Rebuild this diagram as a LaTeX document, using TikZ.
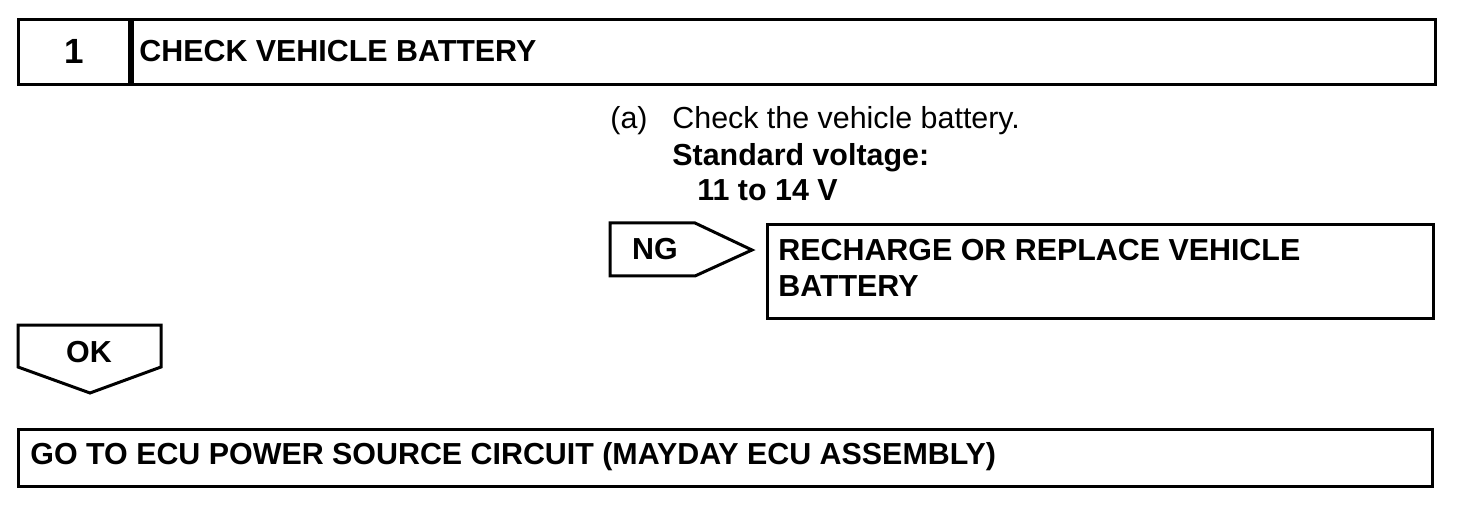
\documentclass[tikz,border=0pt]{standalone}
\usepackage{fontspec}
\setmainfont{Liberation Sans}
\usepackage{tikz}
\usetikzlibrary{positioning, calc}
\tikzstyle{cellbox} = [rectangle, draw=black, line width=1.5pt, inner sep=0pt, anchor=north west]
\tikzstyle{headtext} = [font=\fontsize{15.2}{18}\selectfont\bfseries, inner sep=0pt]
\tikzstyle{bodytext} = [font=\fontsize{15.2}{17.5}\selectfont, inner sep=0pt, anchor=base west]
\tikzstyle{outline} = [draw=black, line width=1.5pt, line join=miter]

\begin{document}
\begin{tikzpicture}[x=0.5pt, y=-0.5pt]
  \useasboundingbox (0,0) rectangle (1472,518);
  % step header
  \node (num) [cellbox, minimum width=55.5pt, minimum height=32.5pt] at (17,18) {};
  \node (title) [cellbox, minimum width=651.5pt, minimum height=32.5pt] at (num.north east) {};
  \node [headtext, font=\fontsize{17.5}{20}\selectfont\bfseries] at ($(num.center)+(0,-1)$) {1};
  \node (titletext) [headtext, anchor=west] at ($(title.west)+(8,-1)$) {CHECK VEHICLE BATTERY};

  % instructions
  \node (item) [bodytext] at (610,129) {(a)};
  \node (check) [bodytext] at (672,129) {Check the vehicle battery.};
  \node (stdv) [bodytext, font=\fontsize{15.2}{17.5}\selectfont\bfseries] at (672,166) {Standard voltage:};
  \node (volts) [bodytext, font=\fontsize{15.2}{17.5}\selectfont\bfseries] at (697,201) {11 to 14 V};

  % NG branch
  \draw[outline] (610,223) -- (695,223) -- (752,250) -- (695,276) -- (610,276) -- cycle;
  \node (ng) [headtext] at (655,249) {NG};
  \node (repl) [cellbox, minimum width=333pt, minimum height=47pt] at (766,223) {};
  \node (repltext) [headtext, anchor=north west, align=left, font=\fontsize{15.2}{18}\selectfont\bfseries]
    at ($(repl.north west)+(12,16)$) {RECHARGE OR REPLACE VEHICLE\\[0pt]BATTERY};

  % OK branch
  \draw[outline] (18,325) -- (161,325) -- (161,367) -- (90,393) -- (18,367) -- cycle;
  \node (ok) [headtext] at (89,352) {OK};
  \node (next) [cellbox, minimum width=707pt, minimum height=28.5pt] at (17,428) {};
  \node (nexttext) [headtext, anchor=west] at ($(next.west)+(13,-1)$) {GO TO ECU POWER SOURCE CIRCUIT (MAYDAY ECU ASSEMBLY)};
\end{tikzpicture}
\end{document}
